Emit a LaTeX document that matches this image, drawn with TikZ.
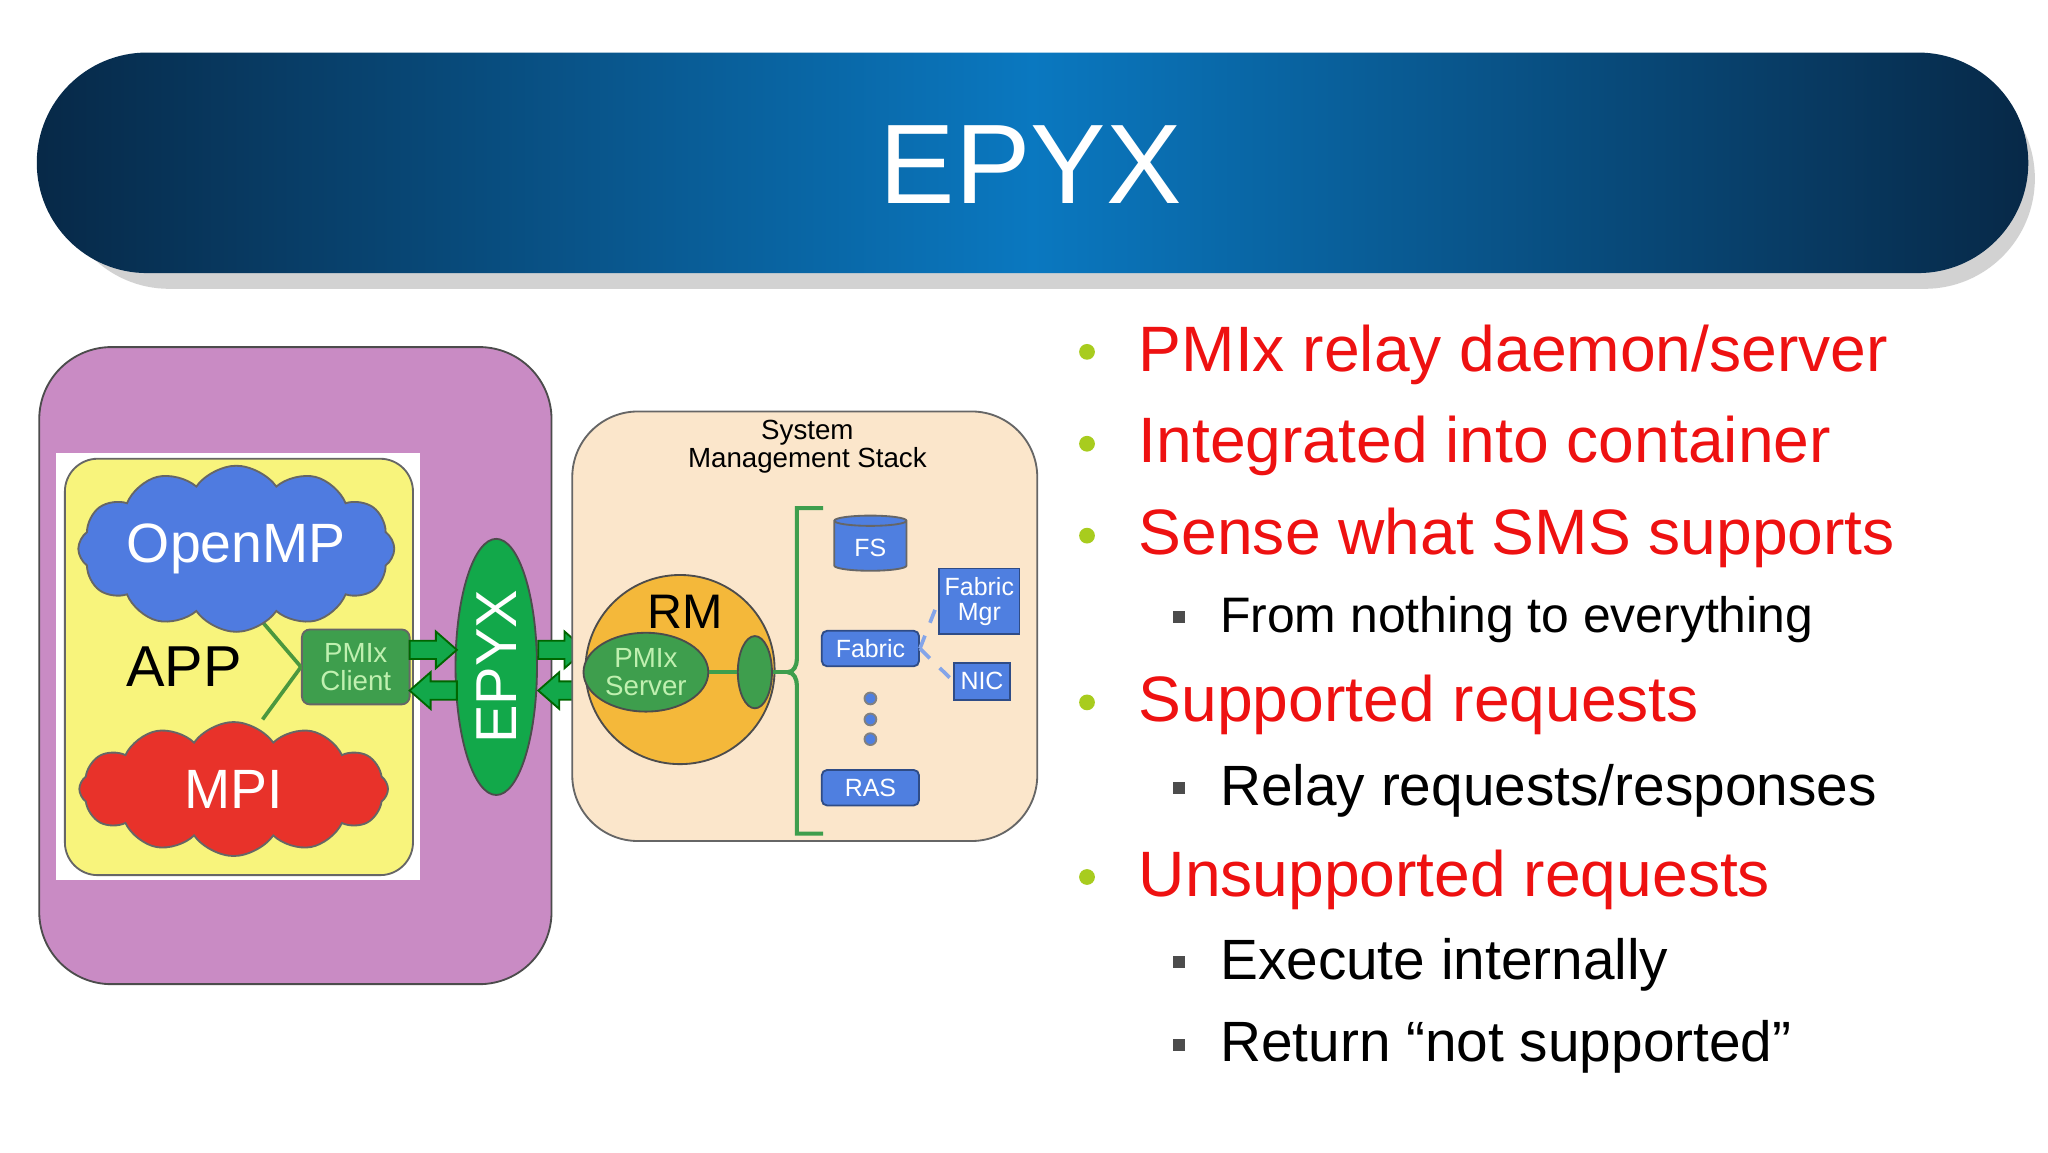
\documentclass[tikz,border=0pt]{standalone}
\usepackage{fontspec}
\setmainfont{Liberation Sans}
\usetikzlibrary{shapes.symbols,shapes.arrows,shapes.geometric,decorations.pathreplacing,shadows}
\definecolor{bann}{HTML}{0A3A66}
\definecolor{bannc}{HTML}{0A78C0}
\definecolor{purp}{HTML}{C98BC4}
\definecolor{yel}{HTML}{F8F47C}
\definecolor{cblue}{HTML}{4F7BE0}
\definecolor{cred}{HTML}{E8322A}
\definecolor{gdark}{HTML}{3E9E4D}
\definecolor{garrow}{HTML}{12A84A}
\definecolor{sms}{HTML}{FBE6CB}
\definecolor{rmc}{HTML}{F4B83A}
\definecolor{bbox}{HTML}{4F7FE0}
\definecolor{lgreen}{HTML}{C0F0B0}
\definecolor{bul}{HTML}{A8CC1E}
\definecolor{redt}{HTML}{EE1111}
\tikzset{
  fs/.style={font=\fontsize{#1}{#1}\selectfont},
  bluebox/.style={draw=bbox!60!black, fill=bbox, text=white, fs=5.4, inner sep=1pt, align=center},
  garr/.style={draw=black!60!green, fill=garrow, line join=miter},
  mainb/.style={anchor=west, text=redt, fs=13.9},
  subb/.style={anchor=west, text=black, fs=12.3},
}
\newcommand{\rarrow}[2]{\path[garr] (#1,#2-7) -- (#1+20,#2-7) -- (#1+20,#2-14) -- (#1+36,#2) -- (#1+20,#2+14) -- (#1+20,#2+7) -- (#1,#2+7) -- cycle;}
\newcommand{\larrow}[2]{\path[garr] (#1+36,#2-7) -- (#1+16,#2-7) -- (#1+16,#2-14) -- (#1,#2) -- (#1+16,#2+14) -- (#1+16,#2+7) -- (#1+36,#2+7) -- cycle;}
\begin{document}
\begin{tikzpicture}[x=0.01cm,y=-0.01cm]
\useasboundingbox (0,0) rectangle (1560,877.5);
\fill[white] (0,0) rectangle (1560,877.5);
% banner
\fill[black!35, opacity=0.5, rounded corners=0.84cm] (45,52) rectangle (1550,220);
\shade[left color=bann!70!black, right color=bann!70!black, middle color=bannc, rounded corners=0.84cm] (28,40) rectangle (1545,208);
\node[text=white, fs=24.5] (title) at (785,125) {EPYX};
% left part
\node[draw=black!70, fill=purp, rounded corners=0.55cm, minimum width=3.9cm, minimum height=4.85cm] (cont) at (225,507) {};
\fill[white] (43,345) rectangle (320,670);
\node[draw=black!60, fill=yel, rounded corners=0.25cm, minimum width=2.65cm, minimum height=3.17cm] (app) at (182,508) {};
\node[draw=black!60, fill=gdark, text=lgreen, rounded corners=0.06cm, fs=6, align=center, minimum width=0.82cm, minimum height=0.57cm, inner sep=1pt] (client) at (271,508) {PMIx\\Client};
\draw[gdark!80!olive, line width=0.8pt] (client.west) -- (195,468);
\draw[gdark!80!olive, line width=0.8pt] (client.west) -- (200,548);
\node[cloud, cloud puffs=12, cloud puff arc=110, aspect=2.4, draw=black!60, fill=cblue, text=white, fs=12, minimum width=2.35cm, minimum height=0.98cm, inner sep=0pt] (omp) at (180,418) {OpenMP};
\node[cloud, cloud puffs=12, cloud puff arc=110, aspect=2.4, draw=black!60, fill=cred, text=white, fs=12, minimum width=2.35cm, minimum height=1.02cm, inner sep=0pt] (mpi) at (178,601) {MPI};
\node[fs=12.5] (applbl) at (140,508) {APP};
\node[ellipse, draw=black!70, fill=garrow, minimum width=0.62cm, minimum height=1.95cm, inner sep=0pt] (epyx) at (378,508) {};
\node[rotate=90, text=white, fs=12.5] (epyxlbl) at (epyx.center) {EPYX};
\rarrow{312}{495}
\larrow{312}{526}
\rarrow{410}{495}
\larrow{410}{526}
% SMS
\node[draw=black!60, fill=sms, rounded corners=0.5cm, minimum width=3.54cm, minimum height=3.27cm] (smsbox) at (613,477) {};
\node[fs=6, align=center] (smslbl) at (615,340) {System\\Management Stack};
\node[circle, draw=black!70, fill=rmc, minimum size=1.44cm, inner sep=0pt] (rm) at (518,510) {};
\node[fs=10.5] (rmlbl) at (522,466) {RM};
\node[ellipse, draw=black!70, fill=gdark, text=lgreen, fs=6, align=center, minimum width=0.95cm, minimum height=0.6cm, inner sep=0pt] (srv) at (492,512) {PMIx\\Server};
\node[ellipse, draw=black!70, fill=gdark, minimum width=0.26cm, minimum height=0.55cm, inner sep=0pt] (port) at (575,512) {};
\draw[gdark, line width=0.8pt] (srv.east) -- (port.west);
\coordinate (bt) at (627,387);
\coordinate (bb) at (627,635);
\coordinate (bm) at (600,512);
\draw[gdark, line width=0.9pt] (bt) -- (607,387) -- (607,502) to[out=-90,in=0] (bm);
\draw[gdark, line width=0.9pt] (bb) -- (607,635) -- (607,522) to[out=90,in=0] (bm);
\draw[gdark, line width=0.9pt] (port.east) -- (bm);
\node[cylinder, shape border rotate=90, aspect=0.25, draw=black!60, fill=bbox, cylinder uses custom fill, cylinder end fill=bbox!65, cylinder body fill=bbox, text=white, fs=5.4, minimum width=0.55cm, minimum height=0.42cm, inner sep=1pt] (fsn) at (663,417) {FS};
\node[bluebox, rounded corners=0.04cm, minimum width=0.74cm, minimum height=0.27cm] (fab) at (663,494) {Fabric};
\node[bluebox, minimum width=0.61cm, minimum height=0.5cm] (fmgr) at (746,458) {Fabric\\Mgr};
\node[bluebox, minimum width=0.42cm, minimum height=0.28cm] (nic) at (748,519) {NIC};
\draw[bbox!70, dashed, line width=0.8pt] (fab.east) -- (fmgr.west);
\draw[bbox!70, dashed, line width=0.8pt] (fab.east) -- (nic.west);
\foreach \yy/\nm in {532/d1,548/d2,563/d3}
  \node[circle, draw=black!50, fill=bbox, minimum size=0.09cm, inner sep=0pt] (\nm) at (663,\yy) {};
\node[bluebox, rounded corners=0.04cm, minimum width=0.74cm, minimum height=0.27cm] (ras) at (663,600) {RAS};
% bullets
\foreach \yy/\nm in {268/b1,338/b2,408/b3,535/b4,668/b5}
  \node[circle, fill=bul, minimum size=0.12cm, inner sep=0pt] (\nm) at (828,\yy) {};
\foreach \yy/\nm in {470/s1,600/s2,733/s3,796/s4}
  \node[fill=black!70, minimum size=0.09cm, inner sep=0pt] (\nm) at (898,\yy) {};
\node[mainb] at (855,270) {PMIx relay daemon/server};
\node[mainb] at (855,340) {Integrated into container};
\node[mainb] at (855,410) {Sense what SMS supports};
\node[subb, fs=10.8] at (917,472) {From nothing to everything};
\node[mainb] at (855,537) {Supported requests};
\node[subb] at (917,602) {Relay requests/responses};
\node[mainb] at (855,670) {Unsupported requests};
\node[subb] at (917,735) {Execute internally};
\node[subb] at (917,797) {Return “not supported”};
\end{tikzpicture}
\end{document}
